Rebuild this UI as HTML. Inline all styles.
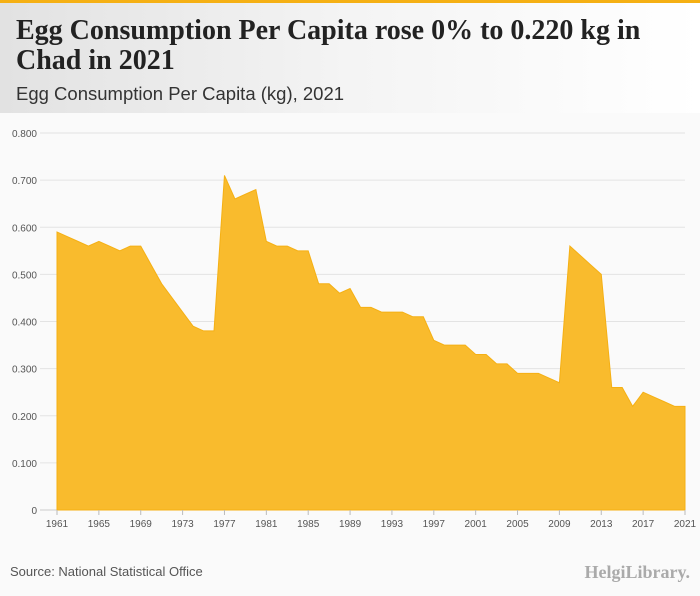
<!DOCTYPE html>
<html><head><meta charset="utf-8"><style>
body{margin:0;width:700px;height:596px;overflow:hidden;background:#fafafa;font-family:"Liberation Sans",sans-serif}
#hdr{position:absolute;left:0;top:0;width:700px;height:113px;background:linear-gradient(90deg,#e2e2e2,#f4f4f4 50%,#fff);border-top:3px solid #f5b014;box-sizing:border-box}
#title{position:absolute;left:16px;top:13px;font:bold 28px "Liberation Serif",serif;color:#222;line-height:30px;width:645px}
#sub{position:absolute;left:16px;top:80px;font-size:18.5px;color:#333}
#src{position:absolute;left:10px;top:564px;font-size:13px;color:#555}
#logo{position:absolute;right:10px;top:562px;font:bold 18px "Liberation Serif",serif;color:#aaa}
</style></head><body>
<div id="hdr">
<div id="title">Egg Consumption Per Capita rose 0% to 0.220 kg in Chad in 2021</div>
<div id="sub">Egg Consumption Per Capita (kg), 2021</div>
</div>
<svg id="chart" width="700" height="596" style="position:absolute;left:0;top:0"></svg>
<div id="src">Source: National Statistical Office</div>
<div id="logo">HelgiLibrary.</div>
<script>
const years=[];for(let y=1961;y<=2021;y++)years.push(y);
const values=[.59,.58,.57,.56,.57,.56,.55,.56,.56,.52,.48,.45,.42,.39,.38,.38,.71,.66,.67,.68,.57,.56,.56,.55,.55,.48,.48,.46,.47,.43,.43,.42,.42,.42,.41,.41,.36,.35,.35,.35,.33,.33,.31,.31,.29,.29,.29,.28,.27,.56,.54,.52,.50,.26,.26,.22,.25,.24,.23,.22,.22];
const yTicks=[0,.1,.2,.3,.4,.5,.6,.7,.8];
const xTicks=[1961,1965,1969,1973,1977,1981,1985,1989,1993,1997,2001,2005,2009,2013,2017,2021];
const NS="http://www.w3.org/2000/svg",svg=document.getElementById('chart');
const x=v=>57+(v-1961)*(628/60), y=v=>510-v*(377/0.8);
function mk(t,a){const e=document.createElementNS(NS,t);for(const k in a)e.setAttribute(k,a[k]);svg.appendChild(e);return e;}
yTicks.forEach(t=>{
 const g=mk('line',{x1:40,x2:685,y1:y(t),y2:y(t),stroke:t?'#e3e3e3':'#ccc'});
 
 
 const l=mk('text',{x:37,y:y(t)+4,'text-anchor':'end','font-size':10,fill:'#555','font-family':'Liberation Sans'});
 l.textContent=t?t.toFixed(3):'0';
 
 
});
let d='M'+x(years[0])+','+y(0);
years.forEach((yr,i)=>d+='L'+x(yr)+','+y(values[i]));
d+='L'+x(years[years.length-1])+','+y(0)+'Z';
const a=mk('path',{d:d,fill:'#f9bb2d',stroke:'#f5b014','stroke-width':1});


xTicks.forEach(t=>{
 mk('line',{x1:x(t),x2:x(t),y1:510,y2:515,stroke:'#bbb'});
 const l=mk('text',{x:x(t),y:527,'text-anchor':'middle','font-size':10,fill:'#555','font-family':'Liberation Sans'});
 l.textContent=t;
 
 
});
</script>
</body></html>
